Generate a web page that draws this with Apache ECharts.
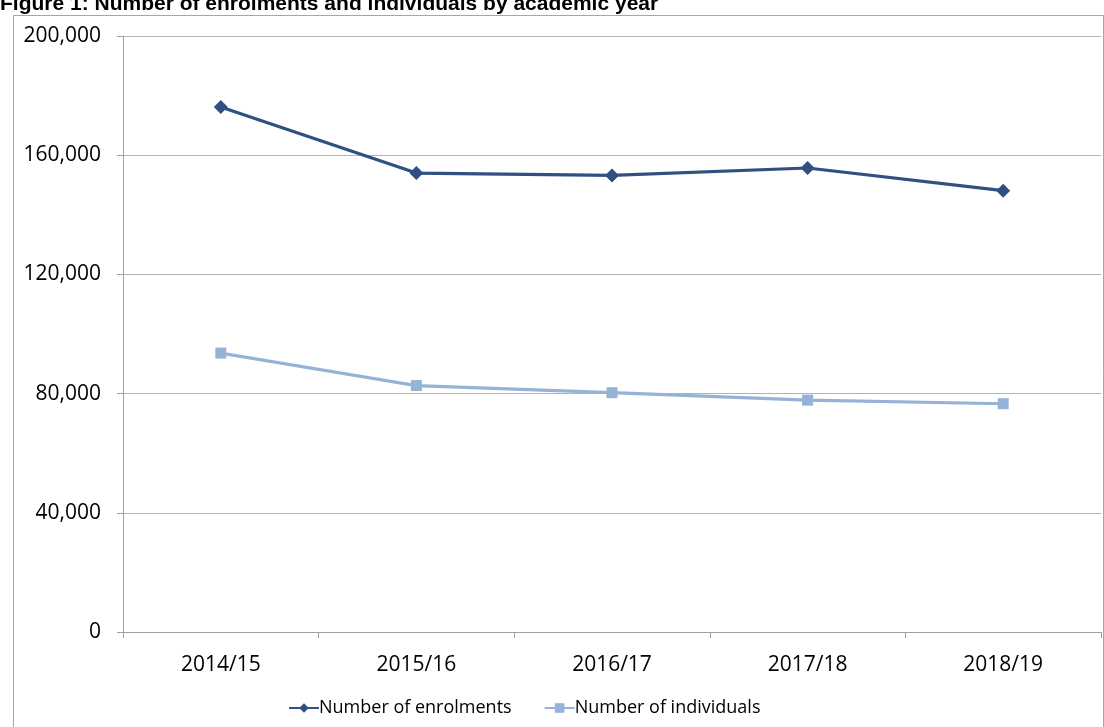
<!DOCTYPE html>
<html><head><meta charset="utf-8">
<script src="https://cdn.jsdelivr.net/npm/echarts@6/dist/echarts.min.js"></script>
<style>html,body{margin:0;padding:0;background:#fff}#c{width:1104px;height:727px}</style>
</head><body><div id="c"></div>
<script>
const categories = ['2014/15','2015/16','2016/17','2017/18','2018/19'];
const enrolments = [176200, 154000, 153200, 155700, 148100];
const individuals = [93600, 82700, 80300, 77800, 76600];
const yTicks = [0, 40000, 80000, 120000, 160000, 200000];
const titleText = 'Figure 1: Number of enrolments and individuals by academic year';
const seriesNames = ['Number of enrolments', 'Number of individuals'];

const labelFont = '"Open Sans", sans-serif';
const chart = echarts.init(document.getElementById('c'), null, {renderer: 'canvas'});
chart.setOption({
  animation: false,
  backgroundColor: '#fff',
  graphic: [
    {type: 'rect', left: 11, top: 13, shape: {width: 1090, height: 730}, style: {fill: 'none', stroke: '#a6a6a6', lineWidth: 1}, z: -1},
    {type: 'text', left: 0, top: -6, style: {text: titleText, font: 'bold 21px "Liberation Sans", Arial, sans-serif', fill: '#000'}}
  ],
  grid: {left: 123, right: 3, top: 36, bottom: 95, containLabel: false},
  legend: {
    bottom: 5, left: 283, itemWidth: 30, itemHeight: 12, itemGap: 32,
    textStyle: {fontFamily: labelFont, fontSize: 18, color: '#000', padding: [0,0,0,-5]},
    data: seriesNames
  },
  xAxis: {
    type: 'category', data: categories, boundaryGap: true,
    axisLine: {lineStyle: {color: '#a0a0a0', width: 1}},
    axisTick: {show: true, length: 6, lineStyle: {color: '#a0a0a0'}},
    axisLabel: {fontFamily: labelFont, fontSize: 21, color: '#000', margin: 23}
  },
  yAxis: {
    type: 'value', min: yTicks[0], max: yTicks[yTicks.length-1], interval: yTicks[1]-yTicks[0],
    axisLine: {show: true, lineStyle: {color: '#a0a0a0', width: 1}},
    axisTick: {show: true, length: 6, lineStyle: {color: '#a0a0a0'}},
    splitLine: {lineStyle: {color: '#b3b3b3', width: 1}},
    axisLabel: {fontFamily: labelFont, fontSize: 21, color: '#000', margin: 22,
      formatter: v => v.toLocaleString('en-US')}
  },
  series: [
    {name: seriesNames[0], type: 'line', data: enrolments, symbol: 'diamond', symbolSize: 14,
     lineStyle: {color: '#2f5080', width: 3.2}, itemStyle: {color: '#2f5080'}},
    {name: seriesNames[1], type: 'line', data: individuals, symbol: 'rect', symbolSize: 11,
     lineStyle: {color: '#95b3d7', width: 3.2}, itemStyle: {color: '#95b3d7'}}
  ]
});
</script></body></html>
